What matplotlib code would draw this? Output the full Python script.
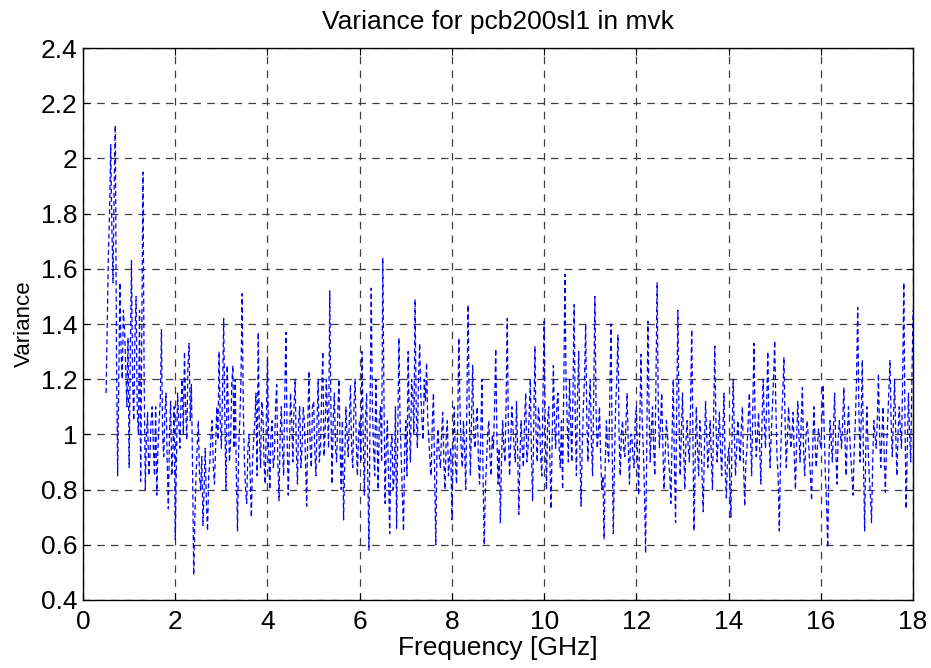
import numpy as np
import matplotlib
matplotlib.use("Agg")
import matplotlib.pyplot as plt
from matplotlib.ticker import FuncFormatter

# frequency grid (GHz), sampled every 0.025 GHz from 0.5 to 18
f_start = 0.5
f_stop = 18.0

# variance at 0.5, 0.55, 0.6 ... GHz, one row per GHz
var_05 = [1.15, 1.65, 2.05, 1.55, 2.12, 0.85, 1.55, 1.20, 1.38, 1.10]
var_1 = [0.88, 1.63, 1.05, 1.50, 1.00, 0.83, 1.95, 0.80, 1.08, 0.92,
         1.10, 0.85, 0.78, 1.05, 1.38, 0.92, 1.15, 0.73, 1.12, 0.95]
var_2 = [0.62, 1.15, 0.95, 1.20, 1.30, 0.98, 1.33, 1.18, 0.49, 0.85,
         1.05, 0.80, 0.67, 0.95, 0.65, 0.90, 1.05, 0.82, 1.10, 1.30]
var_3 = [0.95, 1.42, 0.80, 1.10, 0.98, 1.25, 1.20, 0.65, 1.05, 1.51,
         0.90, 0.75, 1.00, 0.70, 0.98, 1.15, 1.37, 0.88, 1.08, 0.82]
var_4 = [1.28, 0.80, 1.05, 0.92, 1.18, 0.76, 1.10, 0.85, 1.37, 0.78,
         1.15, 0.90, 1.20, 0.82, 1.10, 0.95, 1.05, 0.74, 1.23, 0.88]
var_5 = [1.12, 0.85, 1.20, 0.95, 1.30, 1.00, 1.08, 1.52, 0.82, 1.15,
         0.90, 1.20, 0.80, 0.69, 1.10, 0.92, 1.18, 0.88, 1.20, 0.85]
var_6 = [1.05, 1.30, 0.78, 1.15, 0.58, 1.53, 0.95, 1.20, 0.80, 1.10,
         1.64, 0.75, 1.05, 0.64, 1.00, 0.85, 0.66, 1.35, 0.92, 0.65]
var_7 = [1.05, 1.30, 0.90, 1.15, 1.49, 0.95, 1.33, 1.05, 1.20, 1.26,
         0.98, 0.85, 1.15, 0.60, 1.02, 0.88, 1.08, 0.80, 1.05, 0.92]
var_8 = [0.69, 1.10, 0.82, 1.35, 0.95, 1.05, 0.80, 1.47, 0.85, 1.25,
         0.95, 1.10, 0.82, 1.20, 0.60, 0.90, 1.05, 0.85, 0.95, 1.31]
var_9 = [0.82, 0.68, 1.05, 0.90, 1.42, 0.85, 1.10, 0.95, 1.12, 0.71,
         1.05, 0.88, 1.15, 0.95, 1.20, 0.76, 1.32, 0.90, 1.05, 0.85]
var_10 = [1.41, 0.80, 1.10, 0.73, 1.25, 0.95, 1.15, 0.88, 0.80, 1.58,
          1.05, 1.20, 0.90, 1.47, 0.85, 1.30, 0.74, 1.10, 1.40, 0.90]
var_11 = [1.20, 0.85, 1.50, 0.95, 1.10, 0.80, 0.62, 1.05, 0.90, 1.40,
          0.64, 1.10, 1.36, 0.85, 1.05, 0.92, 1.15, 0.82, 1.00, 0.88]
var_12 = [1.10, 0.78, 1.29, 0.95, 0.57, 1.41, 0.90, 1.10, 0.85, 1.55,
          0.95, 1.15, 0.80, 1.05, 0.90, 0.75, 1.20, 0.68, 1.45, 0.85]
var_13 = [1.15, 0.80, 1.05, 0.90, 1.38, 0.65, 1.10, 0.85, 1.00, 0.72,
          1.12, 0.88, 1.05, 0.80, 1.32, 0.90, 1.08, 0.85, 1.15, 0.77]
var_14 = [0.95, 0.70, 1.20, 0.85, 1.05, 0.90, 1.10, 0.74, 0.95, 1.15,
          0.85, 1.33, 0.92, 1.08, 0.82, 1.20, 0.95, 1.30, 0.88, 1.10]
var_15 = [1.34, 0.92, 0.65, 1.05, 1.28, 0.88, 1.10, 0.95, 1.08, 0.80,
          1.12, 0.90, 1.17, 0.85, 1.05, 0.92, 0.76, 1.10, 0.88, 1.02]
var_16 = [0.95, 1.18, 0.85, 0.59, 1.05, 0.90, 1.15, 0.82, 1.05, 0.95,
          1.17, 0.85, 1.10, 0.92, 0.78, 1.05, 1.46, 0.90, 1.27, 0.65]
var_17 = [1.10, 0.85, 0.68, 1.05, 0.95, 1.22, 0.88, 1.10, 0.79, 1.05,
          1.27, 0.92, 1.20, 0.85, 1.10, 0.95, 1.55, 0.73, 1.15, 0.90]
var_18 = [1.45]

# variance at the in-between samples 0.525, 0.575 ... GHz
mid_05 = [1.40, 1.80, 1.75, 1.90, 1.30, 1.20, 1.30, 1.45, 1.25, 1.35]
mid_1 = [1.30, 1.20, 1.35, 1.10, 1.45, 1.40, 1.20, 1.00, 0.85, 1.05,
         0.95, 1.10, 0.95, 1.12, 1.00, 1.08, 0.90, 1.00, 0.85, 1.10]
mid_2 = [0.90, 1.05, 1.12, 1.00, 1.10, 1.25, 1.05, 0.88, 0.70, 0.95,
         0.85, 0.92, 0.80, 0.75, 0.85, 1.00, 0.88, 0.95, 0.98, 1.05]
mid_3 = [1.15, 1.05, 1.25, 0.90, 1.18, 0.95, 0.85, 0.95, 1.20, 1.10,
         0.80, 0.95, 0.85, 0.90, 1.05, 0.85, 1.00, 1.12, 0.90, 1.05]
mid_4 = [0.95, 1.00, 0.88, 1.10, 0.90, 1.00, 0.95, 1.15, 1.00, 0.95,
         1.05, 1.10, 0.95, 1.05, 0.88, 1.10, 0.90, 1.05, 0.95, 1.10]
mid_5 = [0.95, 1.05, 0.90, 1.15, 0.92, 1.20, 0.95, 1.10, 1.05, 0.95,
         1.08, 0.95, 1.05, 0.90, 1.00, 1.05, 0.95, 1.10, 0.98, 1.00]
mid_6 = [0.90, 1.00, 1.05, 0.85, 1.10, 1.10, 0.85, 1.00, 1.05, 0.90,
         1.15, 0.95, 0.85, 0.95, 0.80, 1.10, 1.00, 1.05, 0.80, 0.95]
mid_7 = [0.85, 1.05, 1.20, 1.00, 1.10, 1.20, 1.15, 0.98, 1.12, 1.05,
         0.90, 1.05, 0.85, 0.95, 0.92, 1.00, 0.90, 0.98, 0.85, 0.95]
mid_8 = [0.95, 0.90, 1.05, 1.10, 0.88, 0.95, 1.15, 1.10, 1.05, 1.00,
         1.05, 0.90, 1.00, 0.85, 0.80, 1.00, 0.92, 1.00, 1.10, 1.00]
mid_9 = [0.95, 0.90, 0.95, 1.12, 1.00, 0.98, 1.02, 0.90, 0.95, 0.92,
         0.95, 1.05, 0.90, 1.08, 0.92, 1.05, 1.00, 1.10, 0.92, 1.15]
mid_10 = [1.00, 1.05, 0.90, 1.00, 1.05, 1.10, 0.95, 1.05, 1.15, 1.20,
          0.90, 1.05, 1.15, 1.05, 1.15, 0.95, 0.95, 1.20, 1.05, 1.10]
mid_11 = [0.98, 1.15, 1.10, 1.00, 0.92, 0.85, 0.90, 0.95, 1.15, 0.95,
          0.90, 1.20, 1.00, 1.00, 0.95, 1.05, 0.95, 1.00, 0.92, 1.05]
mid_12 = [0.92, 1.05, 1.05, 0.80, 0.95, 1.10, 1.02, 0.95, 1.20, 1.10,
          1.05, 0.95, 0.92, 1.00, 0.85, 1.00, 0.90, 1.10, 1.05, 1.00]
mid_13 = [0.95, 0.98, 0.95, 1.10, 1.00, 0.90, 0.95, 1.05, 0.85, 0.95,
          1.00, 0.95, 0.92, 1.05, 1.05, 0.98, 0.95, 1.00, 0.90, 0.90]
mid_14 = [0.85, 1.00, 1.00, 0.95, 0.98, 1.02, 0.88, 0.90, 1.05, 1.00,
          1.10, 1.05, 1.00, 0.95, 1.05, 1.05, 1.10, 1.05, 1.00, 1.20]
mid_15 = [1.10, 0.85, 0.90, 1.15, 1.05, 0.98, 1.02, 1.00, 0.92, 0.98,
          1.00, 1.05, 0.95, 0.98, 1.00, 0.85, 0.95, 0.98, 0.95, 0.98]
mid_16 = [1.05, 1.00, 0.75, 0.90, 0.98, 1.02, 0.95, 0.98, 1.00, 1.05,
          0.98, 1.00, 1.00, 0.85, 0.95, 1.20, 1.10, 1.05, 0.90, 0.95]
mid_17 = [0.95, 0.78, 0.90, 1.00, 1.05, 1.00, 1.00, 0.92, 0.95, 1.15,
          1.05, 1.05, 1.00, 1.00, 1.02, 1.20, 1.05, 0.95, 1.00, 1.20]

xticks = [0, 2, 4, 6, 8, 10, 12, 14, 16, 18]
yticks = [0.4, 0.6, 0.8, 1.0, 1.2, 1.4, 1.6, 1.8, 2.0, 2.2, 2.4]


def main():
    main_pts = (var_05 + var_1 + var_2 + var_3 + var_4 + var_5 + var_6 + var_7
                + var_8 + var_9 + var_10 + var_11 + var_12 + var_13 + var_14
                + var_15 + var_16 + var_17 + var_18)
    mid_pts = (mid_05 + mid_1 + mid_2 + mid_3 + mid_4 + mid_5 + mid_6 + mid_7
               + mid_8 + mid_9 + mid_10 + mid_11 + mid_12 + mid_13 + mid_14
               + mid_15 + mid_16 + mid_17)
    variance = np.empty(len(main_pts) + len(mid_pts))
    variance[0::2] = main_pts
    variance[1::2] = mid_pts
    freq = np.linspace(f_start, f_stop, len(variance))

    plt.rcParams['font.family'] = ['Liberation Sans', 'DejaVu Sans']
    fig = plt.figure(figsize=(9.31, 6.68), dpi=100)
    ax = fig.add_axes([0.0892, 0.1018, 0.8915, 0.8263])

    ax.plot(freq, variance, color='#0000ff', linestyle=(0, (4, 2.5)), linewidth=0.9)

    ax.set_xlim(0, 18)
    ax.set_ylim(0.4, 2.4)
    ax.set_xticks(xticks)
    ax.set_yticks(yticks)
    fmt = FuncFormatter(lambda v, p: '%g' % round(v, 2))
    ax.xaxis.set_major_formatter(fmt)
    ax.yaxis.set_major_formatter(fmt)
    ax.tick_params(direction='in', top=True, right=True, labelsize=19, length=5)
    ax.tick_params(axis='x', pad=7)
    ax.tick_params(axis='y', pad=4)
    ax.grid(True, color='#404040', linestyle=(0, (6, 5)), linewidth=0.9)
    for s in ax.spines.values():
        s.set_linewidth(1.0)

    ax.set_title('Variance for pcb200sl1 in mvk', fontsize=19, pad=14)
    ax.set_xlabel('Frequency [GHz]', fontsize=19, labelpad=2)
    ax.set_ylabel('Variance', fontsize=16, labelpad=4)

    fig.savefig('out.png', dpi=100)


if __name__ == "__main__":
    main()
